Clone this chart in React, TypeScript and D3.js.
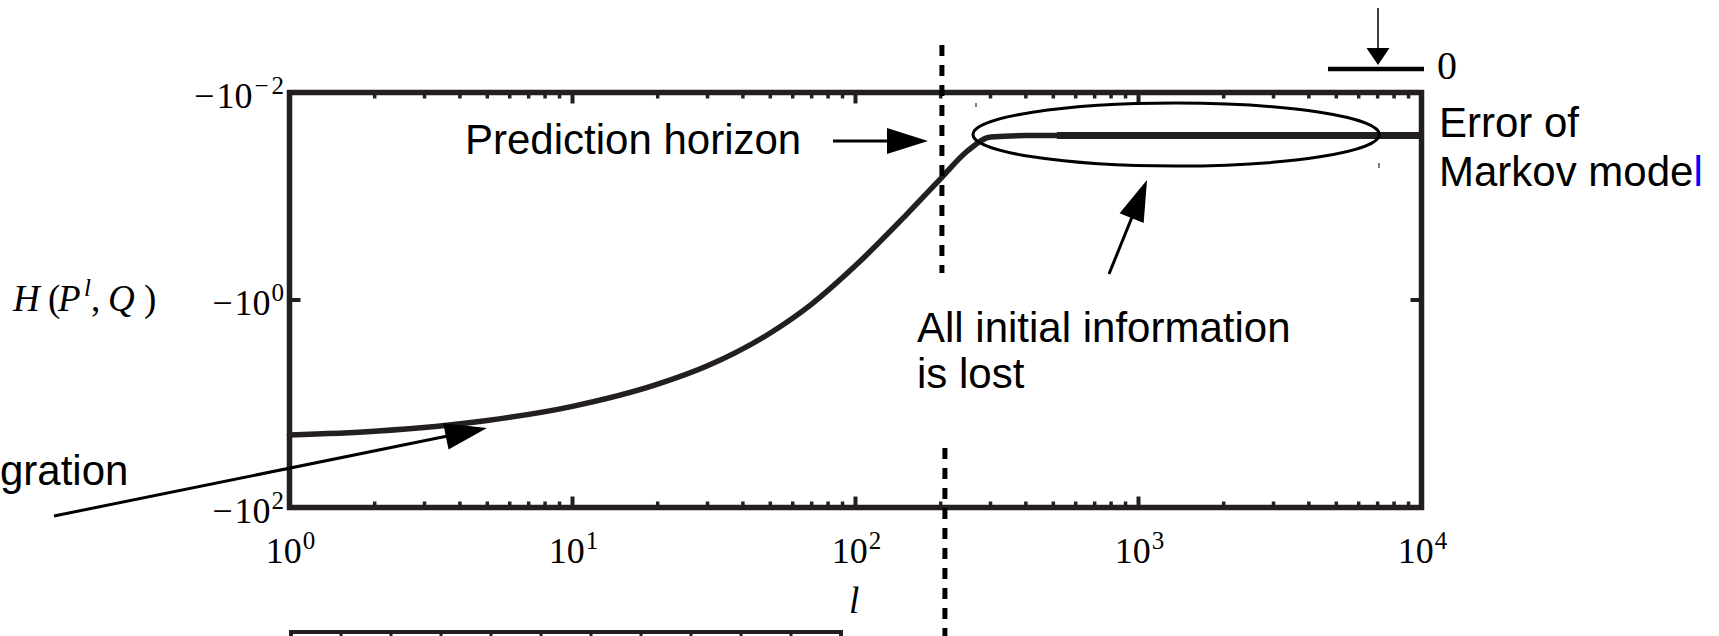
import React from 'react';
import * as d3 from 'd3';

const W = 1719;
const HGT = 636;

// Cross-entropy H(P^l, Q) against the sequence length l
const lengths = [1, 2, 5, 10, 20, 30, 50, 70, 100, 150, 200, 250, 300, 400, 515];
const entropy = [-20.0, -18.4, -14.5, -10.6, -6.48, -4.31, -2.08, -1.095, -0.466, -0.1543, -0.0676, -0.0362, -0.0269, -0.026, -0.026];

// Plateau: error of the Markov model
const markovLengths = [515, 10000];
const markovEntropy = [-0.026, -0.026];

// Prediction horizon (vertical dashed marker)
const horizon = 202;

// Ellipse around the plateau, in l units
const plateauSpan = [260, 7100];

// Axis ticks
const xTickExps = [0, 1, 2, 3, 4];
const yTickExps = [-2, 0, 2];
const lowerPanelTicks = d3.range(0, 12);

const SANS = '"Liberation Sans", Arial, sans-serif';
const SERIF = '"Liberation Serif", "Times New Roman", serif';
const INK = '#231f20';

const x = d3.scaleLog().domain([1, 10000]).range([289.5, 1421.5]);
const y = d3.scaleLog().domain([-100, -0.01]).range([507.5, 92.5]);
const xLower = d3.scaleLinear().domain([0, 11]).range([291, 841]);

type ArrowProps = { x1: number; y1: number; x2: number; y2: number; len?: number; hw?: number; sw?: number };

function Arrow({ x1, y1, x2, y2, len = 42, hw = 13.5, sw = 3 }: ArrowProps) {
  const dx = x2 - x1;
  const dy = y2 - y1;
  const d = Math.hypot(dx, dy);
  const ux = dx / d;
  const uy = dy / d;
  const bx = x2 - ux * len;
  const by = y2 - uy * len;
  const px = -uy;
  const py = ux;
  return (
    <g>
      <line x1={x1} y1={y1} x2={bx + ux * 3} y2={by + uy * 3} stroke="#000" strokeWidth={sw} />
      <polygon
        points={`${x2},${y2} ${bx + px * hw},${by + py * hw} ${bx - px * hw},${by - py * hw}`}
        fill="#000"
      />
    </g>
  );
}

export default function App() {
  const pts = lengths.map((l, i) => [x(l), y(entropy[i])] as [number, number]);
  const curvePath = d3.line().curve(d3.curveMonotoneX)(pts) || '';
  const markovPath =
    d3.line()(markovLengths.map((l, i) => [x(l), y(markovEntropy[i])] as [number, number])) || '';

  const majors = xTickExps.map((e) => Math.pow(10, e));
  const minors: number[] = [];
  for (let e = 0; e < 4; e++) for (let k = 2; k <= 9; k++) minors.push(k * Math.pow(10, e));

  const [x0, x1] = x.range();
  const [yb, yt] = y.range();

  const hx = x(horizon);
  const ex0 = x(plateauSpan[0]);
  const ex1 = x(plateauSpan[1]);
  const ey = y(markovEntropy[0]);

  return (
    <svg
      width={W}
      height={HGT}
      viewBox={`0 0 ${W} ${HGT}`}
      style={{ position: 'absolute', left: 0, top: 0, background: '#fff' }}
    >
      <rect x={0} y={0} width={W} height={HGT} fill="#fff" />

      {/* minor and major ticks, top and bottom */}
      {minors.map((v) => (
        <g key={'mn' + v}>
          <line x1={x(v)} x2={x(v)} y1={yb} y2={yb - 6} stroke={INK} strokeWidth={3.5} />
          <line x1={x(v)} x2={x(v)} y1={yt} y2={yt + 6} stroke={INK} strokeWidth={3.5} />
        </g>
      ))}
      {majors.map((v) => (
        <g key={'mj' + v}>
          <line x1={x(v)} x2={x(v)} y1={yb} y2={yb - 11} stroke={INK} strokeWidth={4} />
          <line x1={x(v)} x2={x(v)} y1={yt} y2={yt + 11} stroke={INK} strokeWidth={4} />
        </g>
      ))}
      {yTickExps.map((e) => {
        const yy = y(-Math.pow(10, e));
        return (
          <g key={'yt' + e}>
            <line x1={x0} x2={x0 + 11} y1={yy} y2={yy} stroke={INK} strokeWidth={4} />
            <line x1={x1} x2={x1 - 11} y1={yy} y2={yy} stroke={INK} strokeWidth={4} />
          </g>
        );
      })}

      {/* frame */}
      <rect x={x0} y={yt} width={x1 - x0} height={yb - yt} fill="none" stroke={INK} strokeWidth={5.5} />

      {/* x tick labels */}
      {xTickExps.map((e) => (
        <text
          key={'xl' + e}
          x={x(Math.pow(10, e)) + 1}
          y={563}
          textAnchor="middle"
          fontFamily={SERIF}
          fontSize={36}
          fill="#000"
        >
          10
          <tspan fontSize={25} dy={-14} dx={1}>
            {String(e)}
          </tspan>
        </text>
      ))}

      {/* y tick labels */}
      {yTickExps.map((e) => (
        <text
          key={'yl' + e}
          x={284}
          y={y(-Math.pow(10, e)) + 15}
          textAnchor="end"
          fontFamily={SERIF}
          fontSize={36}
          fill="#000"
        >
          {'\u2212'}
          <tspan dx={2}>10</tspan>
          {e < 0 ? (
            <>
              <tspan fontSize={25} dy={-14} dx={2}>
                {'\u2212'}
              </tspan>
              <tspan fontSize={25} dx={3}>
                {String(-e)}
              </tspan>
            </>
          ) : (
            <tspan fontSize={25} dy={-14} dx={1}>
              {String(e)}
            </tspan>
          )}
        </text>
      ))}

      {/* y axis label H(P^l, Q) */}
      <text y={311} fontFamily={SERIF} fontSize={37} fill="#000">
        <tspan x={13} fontStyle="italic">H</tspan>
        <tspan x={48}>(</tspan>
        <tspan x={58} fontStyle="italic">P</tspan>
        <tspan x={84} dy={-15} fontSize={25} fontStyle="italic">l</tspan>
        <tspan x={91} dy={15}>,</tspan>
        <tspan x={108} fontStyle="italic">Q</tspan>
        <tspan x={144}>)</tspan>
      </text>

      {/* x axis label */}
      <text x={849} y={613} fontFamily={SERIF} fontStyle="italic" fontSize={37} fill="#000">
        l
      </text>

      {/* curve */}
      <path d={curvePath} fill="none" stroke={INK} strokeWidth={5.5} strokeLinecap="round" />
      <path d={markovPath} fill="none" stroke={INK} strokeWidth={7} />

      {/* prediction horizon marker */}
      <line x1={hx} x2={hx} y1={45} y2={273} stroke="#000" strokeWidth={5} strokeDasharray="11 9" />
      <line x1={hx + 3} x2={hx + 3} y1={448} y2={HGT} stroke="#000" strokeWidth={5} strokeDasharray="11 9" />

      {/* ellipse around the plateau */}
      <ellipse
        cx={(ex0 + ex1) / 2}
        cy={ey - 1}
        rx={(ex1 - ex0) / 2}
        ry={31.5}
        fill="none"
        stroke="#000"
        strokeWidth={3}
      />
      <line x1={976} x2={976} y1={103} y2={107} stroke="#000" strokeWidth={1} />
      <line x1={1379} x2={1379} y1={163} y2={168} stroke="#000" strokeWidth={1} />

      {/* annotations */}
      <text x={465} y={154} fontFamily={SANS} fontSize={42} fill="#000">
        Prediction horizon
      </text>
      <Arrow x1={833} y1={141} x2={928} y2={141} len={41} hw={13} />

      <text x={917} y={342} fontFamily={SANS} fontSize={42} fill="#000">
        All initial information
      </text>
      <text x={917} y={388} fontFamily={SANS} fontSize={42} fill="#000">
        is lost
      </text>
      <Arrow x1={1109} y1={274} x2={1147} y2={180} len={41} hw={13} />

      <text x={0} y={485} fontFamily={SANS} fontSize={42} fill="#000">
        gration
      </text>
      <Arrow x1={54} y1={516} x2={487} y2={428} len={42} hw={13.5} />

      <text x={1439} y={137} fontFamily={SANS} fontSize={42} fill="#000">
        Error of
      </text>
      <text x={1439} y={186} fontFamily={SANS} fontSize={42} fill="#000">
        Markov mode<tspan fill="#0000ff">l</tspan>
      </text>

      {/* zero reference */}
      <line x1={1328} x2={1424} y1={69} y2={69} stroke="#000" strokeWidth={4.5} />
      <Arrow x1={1378} y1={8} x2={1378} y2={65} len={17} hw={11.5} sw={1.5} />
      <text x={1437} y={79} fontFamily={SERIF} fontSize={40} fill="#000">
        0
      </text>

      {/* top edge of the next panel */}
      {lowerPanelTicks.slice(1, -1).map((t) => (
        <line
          key={'lp' + t}
          x1={xLower(t)}
          x2={xLower(t)}
          y1={632}
          y2={637}
          stroke={INK}
          strokeWidth={3}
        />
      ))}
      <path
        d={`M${xLower(0)},${HGT + 4} L${xLower(0)},632 L${xLower(11)},632 L${xLower(11)},${HGT + 4}`}
        fill="none"
        stroke={INK}
        strokeWidth={4}
      />
    </svg>
  );
}
